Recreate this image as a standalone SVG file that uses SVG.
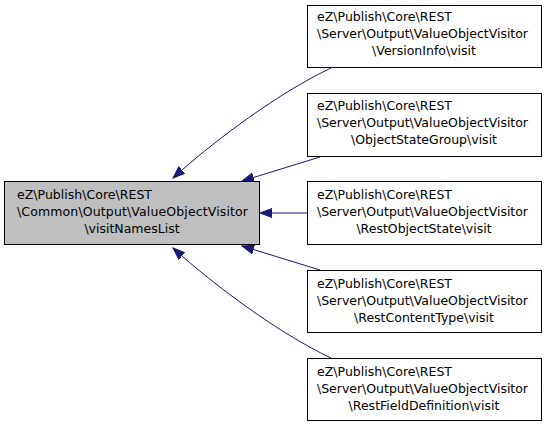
<svg xmlns="http://www.w3.org/2000/svg" width="549" height="427" viewBox="0 0 549 427">
<defs>
<style>
.n{fill:#fff;stroke:#000;stroke-width:1}
.m{fill:#bfbfbf;stroke:#000;stroke-width:1}
text{font-family:"DejaVu Sans",sans-serif;font-size:12.5px;fill:#000}
.e{fill:none;stroke:#191970;stroke-width:1}
</style>
<marker id="a" markerWidth="13" markerHeight="10" refX="12" refY="5" orient="auto" markerUnits="userSpaceOnUse"><path d="M0,0.5 L12,5 L0,9.5 Z" fill="#191970" stroke="#191970"/></marker>
</defs>
<rect width="549" height="427" fill="#fff"/>
<g id="edges">
<path class="e" d="M331,68 C280,92 215,140 173,178" marker-end="url(#a)"/>
<path class="e" d="M320,157 L242,181" marker-end="url(#a)"/>
<path class="e" d="M307,213 L260,213" marker-end="url(#a)"/>
<path class="e" d="M320,270 L242,246" marker-end="url(#a)"/>
<path class="e" d="M331,358 C280,334 215,286 173,248" marker-end="url(#a)"/>
</g>
<g id="main">
<rect class="m" x="4.5" y="181.5" width="255" height="63"/>
<text x="17" y="199" textLength="135">eZ\Publish\Core\REST</text>
<text x="17" y="216" textLength="231">\Common\Output\ValueObjectVisitor</text>
<text x="132" y="233" text-anchor="middle">\visitNamesList</text>
</g>
<g id="n1">
<rect class="n" x="307.5" y="5.5" width="234" height="62"/>
<text x="317" y="21" textLength="135">eZ\Publish\Core\REST</text>
<text x="317" y="38" textLength="211">\Server\Output\ValueObjectVisitor</text>
<text x="424" y="55" text-anchor="middle">\VersionInfo\visit</text>
</g>
<g id="n2">
<rect class="n" x="307.5" y="93.5" width="234" height="63"/>
<text x="317" y="110" textLength="135">eZ\Publish\Core\REST</text>
<text x="317" y="127" textLength="211">\Server\Output\ValueObjectVisitor</text>
<text x="424" y="144" text-anchor="middle">\ObjectStateGroup\visit</text>
</g>
<g id="n3">
<rect class="n" x="307.5" y="181.5" width="234" height="63"/>
<text x="317" y="199" textLength="135">eZ\Publish\Core\REST</text>
<text x="317" y="216" textLength="211">\Server\Output\ValueObjectVisitor</text>
<text x="424" y="233" text-anchor="middle">\RestObjectState\visit</text>
</g>
<g id="n4">
<rect class="n" x="307.5" y="270.5" width="234" height="62"/>
<text x="317" y="288" textLength="135">eZ\Publish\Core\REST</text>
<text x="317" y="305" textLength="211">\Server\Output\ValueObjectVisitor</text>
<text x="424" y="322" text-anchor="middle">\RestContentType\visit</text>
</g>
<g id="n5">
<rect class="n" x="307.5" y="358.5" width="234" height="62"/>
<text x="317" y="376" textLength="135">eZ\Publish\Core\REST</text>
<text x="317" y="393" textLength="211">\Server\Output\ValueObjectVisitor</text>
<text x="424" y="410" text-anchor="middle">\RestFieldDefinition\visit</text>
</g>
</svg>
